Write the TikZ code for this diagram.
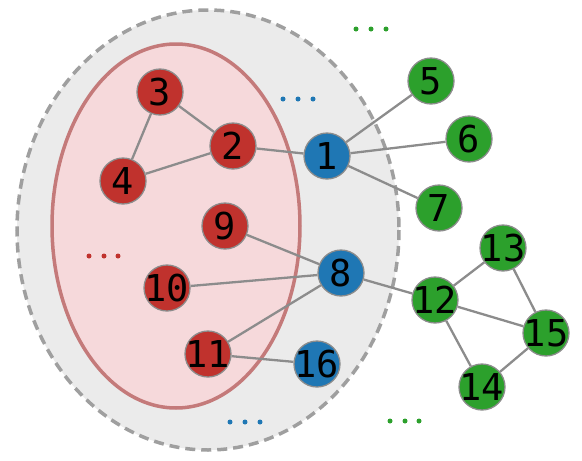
\documentclass[tikz,border=0pt]{standalone}
\usepackage{fontspec}
\newfontfamily\nodefont{DejaVu Sans Mono}
\usepackage{xcolor}
\usetikzlibrary{positioning}

\definecolor{vred}{HTML}{C0322D}
\definecolor{vblue}{HTML}{1F77B4}
\definecolor{vgreen}{HTML}{2CA02C}
\definecolor{outerfill}{HTML}{EBEBEB}
\definecolor{innerfill}{HTML}{F6D9DB}
\definecolor{inneredge}{HTML}{C47A7A}

\pgfdeclarelayer{regions}
\pgfdeclarelayer{edges}
\pgfsetlayers{regions,edges,main}

% label of zero width, so the circle keeps its size
\newcommand{\vlab}[1]{\makebox[0pt]{#1}}

\begin{document}
\begin{tikzpicture}[
  x=1pt, y=-1pt,
  vtx/.style={circle, draw=gray!90, line width=1.3pt, minimum size=46pt,
              inner sep=0pt, font=\nodefont\fontsize{37}{37}\selectfont},
  redv/.style={vtx, fill=vred},
  bluev/.style={vtx, fill=vblue},
  greenv/.style={vtx, fill=vgreen},
  edge/.style={draw=gray!90, line width=2.3pt},
  dot/.style={circle, inner sep=0pt, minimum size=5pt},
]
\useasboundingbox (0,0) rectangle (582,461);

% --- regions ---
\begin{pgfonlayer}{regions}
  \draw[fill=outerfill, draw=gray!75, dash pattern=on 10pt off 6pt,
        line width=3.5pt] (208,230) ellipse [x radius=191, y radius=220];
  \draw[fill=innerfill, draw=inneredge, line width=3.5pt]
        (176,226) ellipse [x radius=124, y radius=182];
\end{pgfonlayer}

% --- vertices ---
\node[bluev]  (n1)  at (327,156) {\vlab{1}};
\node[redv]   (n2)  at (233,146) {\vlab{2}};
\node[redv]   (n3)  at (160, 92) {\vlab{3}};
\node[redv]   (n4)  at (123,181) {\vlab{4}};
\node[greenv] (n5)  at (431, 81) {\vlab{5}};
\node[greenv] (n6)  at (469,139) {\vlab{6}};
\node[greenv] (n7)  at (439,208) {\vlab{7}};
\node[bluev]  (n8)  at (341,273) {\vlab{8}};
\node[redv]   (n9)  at (225,226) {\vlab{9}};
\node[redv]   (n10) at (167,288) {\vlab{10}};
\node[redv]   (n11) at (208,354) {\vlab{11}};
\node[greenv] (n12) at (435,300) {\vlab{12}};
\node[greenv] (n13) at (503,248) {\vlab{13}};
\node[greenv] (n14) at (482,387) {\vlab{14}};
\node[greenv] (n15) at (546,333) {\vlab{15}};
\node[bluev]  (n16) at (317,364) {\vlab{16}};

% --- edges ---
\begin{pgfonlayer}{edges}
  \foreach \a/\b in {n3/n2, n3/n4, n4/n2, n2/n1, n1/n5, n1/n6, n1/n7,
                     n9/n8, n10/n8, n11/n8, n11/n16, n8/n12,
                     n12/n13, n12/n15, n12/n14, n13/n15, n14/n15}
    \draw[edge] (\a) -- (\b);
\end{pgfonlayer}

% --- more vertices, not shown ---
\foreach \x in {356,371,386} \node[dot, fill=vgreen] at (\x,29) {};
\foreach \x in {283,298,313} \node[dot, fill=vblue] at (\x,99) {};
\foreach \x in {89,104,118} \node[dot, fill=vred] at (\x,256) {};
\foreach \x in {230,245,260} \node[dot, fill=vblue] at (\x,422) {};
\foreach \x in {390,405,419} \node[dot, fill=vgreen] at (\x,421) {};

\end{tikzpicture}
\end{document}
